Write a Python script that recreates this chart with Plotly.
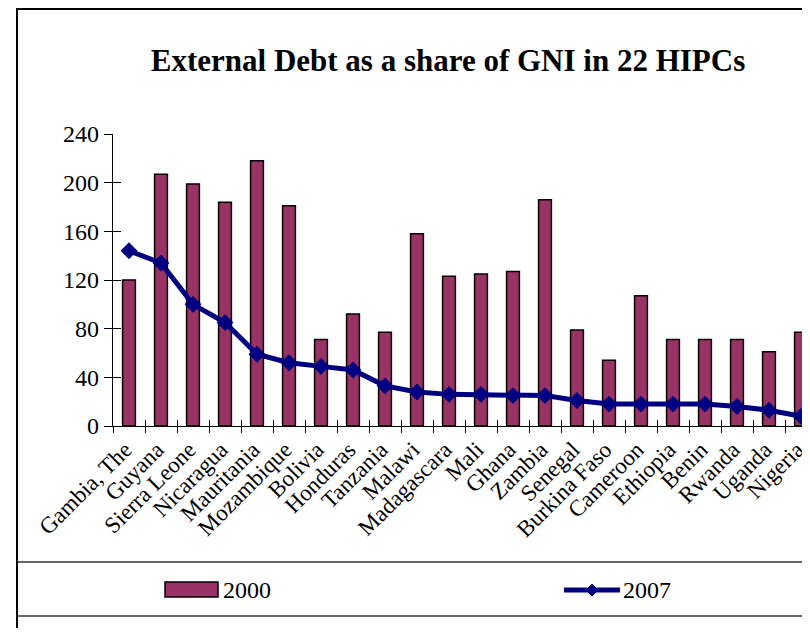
import plotly.graph_objects as go

countries = ["Gambia, The", "Guyana", "Sierra Leone", "Nicaragua", "Mauritania",
             "Mozambique", "Bolivia", "Honduras", "Tanzania", "Malawi", "Madagascara",
             "Mali", "Ghana", "Zambia", "Senegal", "Burkina Faso", "Cameroon",
             "Ethiopia", "Benin", "Rwanda", "Uganda", "Nigeria"]
debt_2000 = [120, 207, 199, 184, 218, 181, 71, 92, 77, 158, 123,
             125, 127, 186, 79, 54, 107, 71, 71, 71, 61, 77]
debt_2007 = [144, 134, 100, 85, 59, 52, 49, 46, 33, 28, 26,
             26, 25, 25, 21, 18, 18, 18, 18, 16, 13, 8]
y_ticks = [0, 40, 80, 120, 160, 200, 240]

# the page body has an 8px margin, so the figure starts at page (8, 8)
O = 8
W, H = 810 - O, 620
L, R, T, B = 113 - O, 0, 134 - O, H - (426 - O)
PW, PH = W - L - R, H - T - B
FONT = "Liberation Serif, Times New Roman, serif"


def px(p):  # page x -> paper x
    return (p - O - L) / PW


def py(p):  # page y -> paper y
    return (H - B - (p - O)) / PH


n = len(countries)
x_end = PW / 32.0 - 0.5

fig = go.Figure()
fig.add_trace(go.Bar(
    x=countries, y=debt_2000, name="2000", width=0.4,
    marker=dict(color="#993366", line=dict(color="black", width=1.5)),
    showlegend=False,
))
fig.add_trace(go.Scatter(
    x=countries, y=debt_2007, name="2007", mode="lines+markers",
    line=dict(color="#000080", width=5),
    marker=dict(symbol="diamond", size=13, color="#000080"),
    showlegend=False,
))
# empty helper trace to create overlay axes for crossing ticks
fig.add_trace(go.Scatter(x=[], y=[], xaxis="x2", yaxis="y2",
                         showlegend=False, hoverinfo="skip"))

fig.update_layout(
    width=W, height=H,
    margin=dict(l=L, r=R, t=T, b=B),
    paper_bgcolor="white", plot_bgcolor="white",
    font=dict(family=FONT, color="black"),
    title=dict(text="<b>External Debt as a share of GNI in 22 HIPCs</b>",
               font=dict(family=FONT, size=31, color="black"),
               x=(448 - O) / W, xref="container", xanchor="center",
               y=1 - (60 - O) / H, yref="container", yanchor="middle"),
    xaxis=dict(type="category", categoryarray=countries, range=[-0.5, x_end],
               showline=True, linecolor="black", linewidth=1.2,
               ticks="outside", ticklen=6, tickcolor="black", tickwidth=1.2,
               tickson="boundaries", tickangle=-45, ticklabelshift=-4,
               tickfont=dict(family=FONT, size=23, color="black"),
               showgrid=False, zeroline=False),
    yaxis=dict(range=[0, 240], tickvals=y_ticks,
               showline=True, linecolor="black", linewidth=1.2,
               ticks="outside", ticklen=8, tickcolor="black", tickwidth=1.2,
               tickfont=dict(family=FONT, size=24, color="black"),
               showgrid=False, zeroline=False),
    xaxis2=dict(overlaying="x", range=[-0.5, x_end],
                tickvals=[i - 0.5 for i in range(n + 1)],
                ticks="inside", ticklen=6, tickcolor="black", tickwidth=1.2,
                showticklabels=False, showline=False, showgrid=False,
                zeroline=False, side="bottom"),
    yaxis2=dict(overlaying="y", range=[0, 240], tickvals=y_ticks,
                ticks="inside", ticklen=8, tickcolor="black", tickwidth=1.2,
                showticklabels=False, showline=False, showgrid=False,
                zeroline=False, side="left"),
)

shapes = []
# outer chart border (left and top)
shapes.append(dict(type="line", xref="paper", yref="paper",
                   x0=px(17), x1=px(17), y0=py(8), y1=py(660),
                   line=dict(color="black", width=2)))
shapes.append(dict(type="line", xref="paper", yref="paper",
                   x0=px(17), x1=px(830), y0=py(9), y1=py(9),
                   line=dict(color="black", width=2)))
# legend box lines
for yy in (562, 616):
    shapes.append(dict(type="line", xref="paper", yref="paper",
                       x0=px(17), x1=px(830), y0=py(yy), y1=py(yy),
                       line=dict(color="#333333", width=1.5)))
# legend swatch for 2000
shapes.append(dict(type="rect", xref="paper", yref="paper",
                   x0=px(165), x1=px(218), y0=py(597), y1=py(582),
                   fillcolor="#993366", line=dict(color="black", width=1.5)))
# legend swatch for 2007
shapes.append(dict(type="line", xref="paper", yref="paper",
                   x0=px(564), x1=px(620), y0=py(590), y1=py(590),
                   line=dict(color="#000080", width=5)))
cx, cy, d = 592, 590, 6
shapes.append(dict(type="path", xref="paper", yref="paper",
                   path=f"M {px(cx - d)} {py(cy)} L {px(cx)} {py(cy - d)} "
                        f"L {px(cx + d)} {py(cy)} L {px(cx)} {py(cy + d)} Z",
                   fillcolor="#000080", line=dict(color="#000080", width=1)))
fig.update_layout(shapes=shapes)

fig.add_annotation(text="2000", xref="paper", yref="paper", x=px(221), y=py(590),
                   xanchor="left", yanchor="middle", showarrow=False,
                   font=dict(family=FONT, size=24, color="black"))
fig.add_annotation(text="2007", xref="paper", yref="paper", x=px(621), y=py(590),
                   xanchor="left", yanchor="middle", showarrow=False,
                   font=dict(family=FONT, size=24, color="black"))

fig.write_html("out.html")
